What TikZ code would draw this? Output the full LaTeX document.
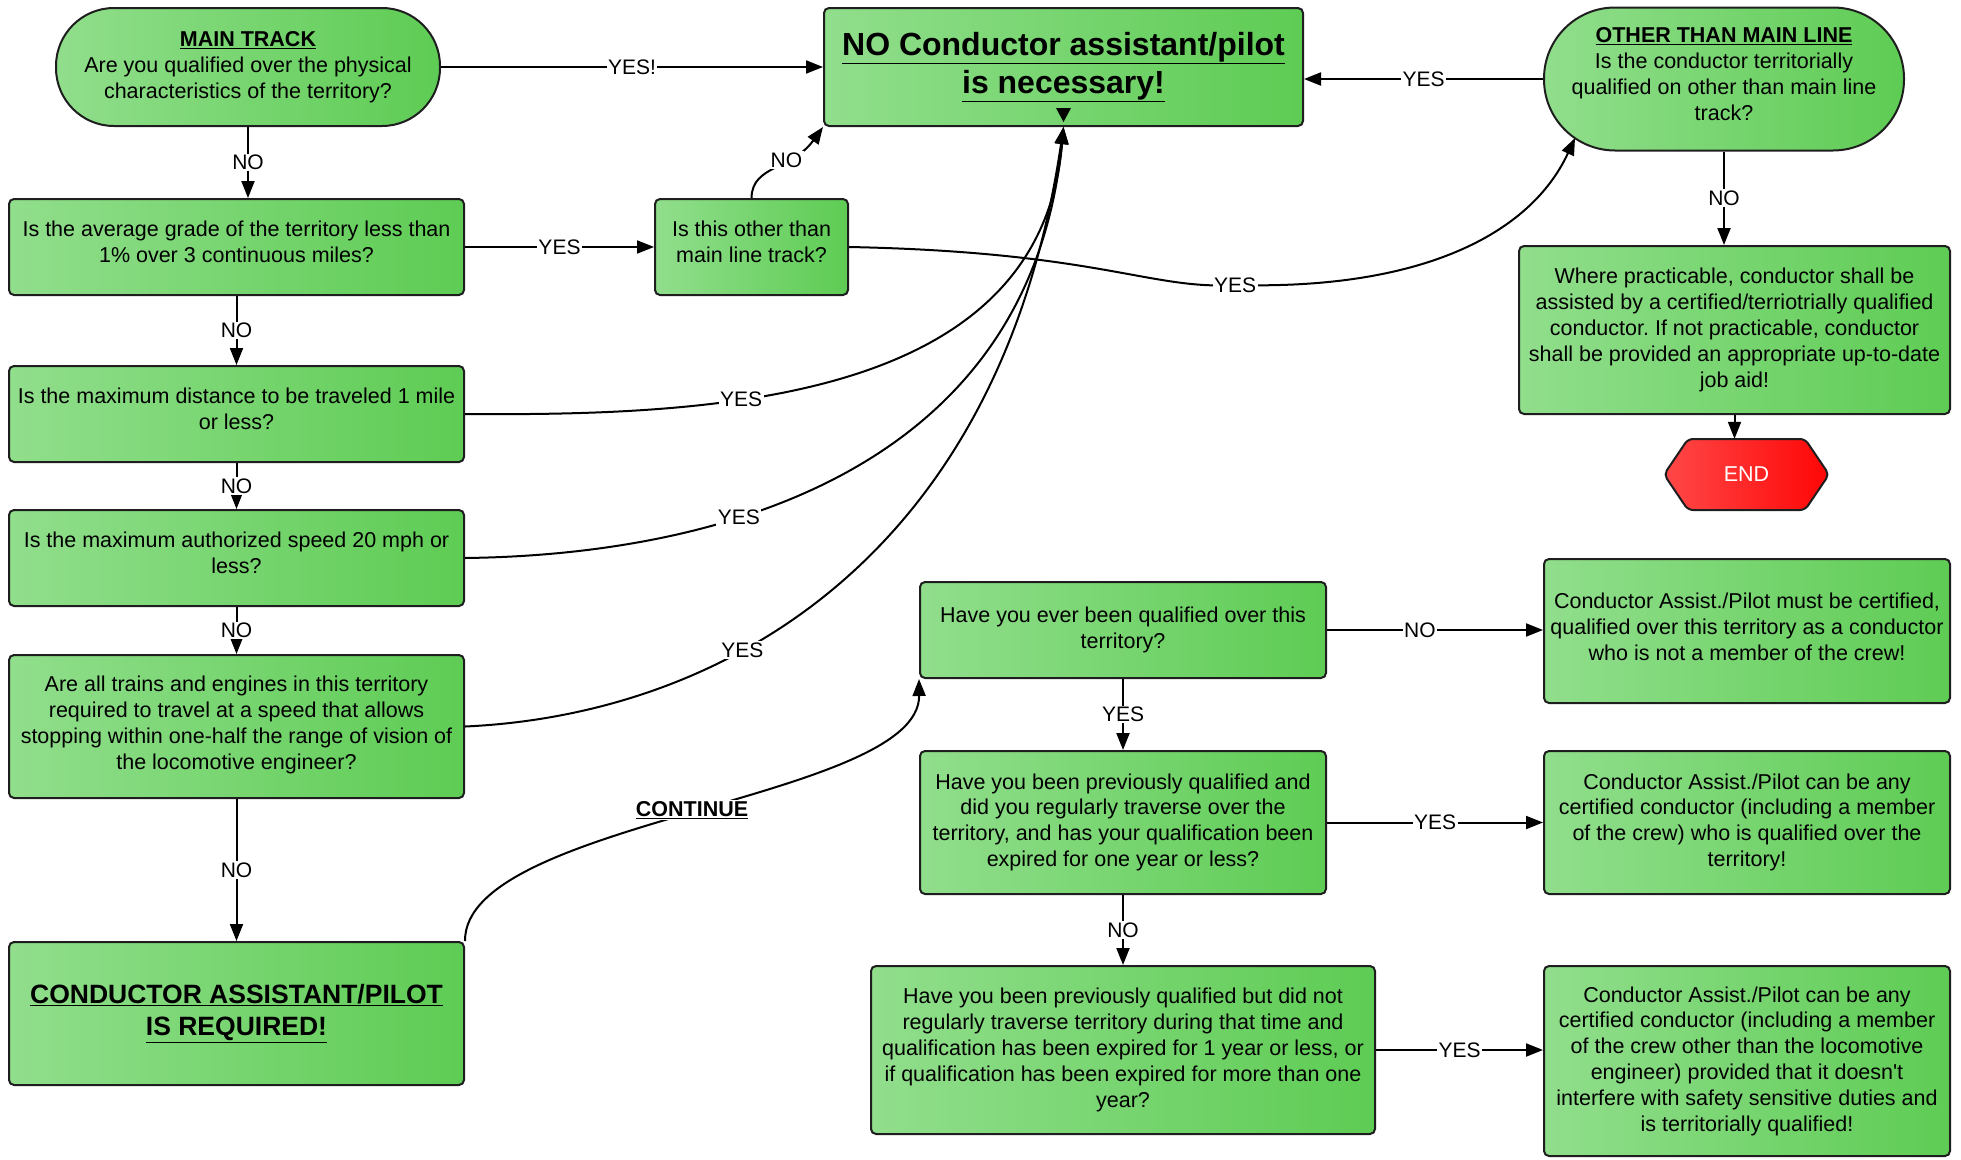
\documentclass[tikz,border=0pt]{standalone}
\usepackage{fontspec}
\setmainfont{Liberation Sans}
\usetikzlibrary{arrows.meta,calc}
\definecolor{gL}{RGB}{145,222,140}
\definecolor{gR}{RGB}{94,204,84}
\definecolor{rL}{RGB}{255,72,72}
\definecolor{rR}{RGB}{255,6,6}
\definecolor{bd}{RGB}{30,30,30}
\newcommand\myfs{\fontsize{21.5}{25.8}\selectfont}
% raise the text of a box by half of (25.8pt + #1)
\newcommand\lift[1]{\\[#1]\mbox{}}
\tikzset{
  box/.style={draw=bd, line width=2pt, rounded corners=5pt, left color=gL, right color=gR,
    align=center, font=\myfs, inner sep=0pt},
  lbl/.style={fill=white, inner sep=1.5pt, font=\fontsize{21}{25}\selectfont},
  arr/.style={line width=2pt, -{Triangle[length=17pt,width=13pt]}},
}
\begin{document}
\frenchspacing
\begin{tikzpicture}[x=1pt,y=-1pt]
\useasboundingbox (0,0) rectangle (1961,1159);

% nodes
\node[box, minimum width=384pt, minimum height=118pt, rounded corners=58pt] (main) at (248,67)
  {\underline{\textbf{MAIN TRACK}}\\Are you qualified over the physical\\characteristics of the territory?};
\node[box, minimum width=479pt, minimum height=118pt, font=\fontsize{32}{38.5}\selectfont\bfseries] (noc) at (1063.5,67)
  {\underline{NO Conductor assistant/pilot}\\\underline{is necessary!}};
\node[box, minimum width=360pt, minimum height=143pt, rounded corners=71pt] (other) at (1724,79)
  {\underline{\textbf{OTHER THAN MAIN LINE}}\\Is the conductor territorially\\qualified on other than main line\\track?\lift{-15.8pt}};

\node[box, minimum width=455pt, minimum height=96pt] (b1) at (236.5,247)
  {Is the average grade of the territory less than\\1\% over 3 continuous miles?\lift{-15.8pt}};
\node[box, minimum width=193pt, minimum height=96pt] (oth2) at (751.5,247)
  {Is this other than\\main line track?\lift{-15.8pt}};
\node[box, minimum width=455pt, minimum height=96pt] (b2) at (236.5,414)
  {Is the maximum distance to be traveled 1 mile\\or less?\lift{-15.8pt}};
\node[box, minimum width=455pt, minimum height=96pt] (b3) at (236.5,558)
  {Is the maximum authorized speed 20 mph or\\less?\lift{-15.8pt}};
\node[box, minimum width=455pt, minimum height=143pt] (b4) at (236.5,726.5)
  {Are all trains and engines in this territory\\required to travel at a speed that allows\\stopping within one-half the range of vision of\\the locomotive engineer?\lift{-17.8pt}};
\node[box, minimum width=455pt, minimum height=143pt, font=\fontsize{26.5}{32}\selectfont\bfseries] (b5) at (236.5,1013.5)
  {\underline{CONDUCTOR ASSISTANT/PILOT}\\\underline{IS REQUIRED!}};

\node[box, minimum width=431pt, minimum height=168pt] (where) at (1734.5,330)
  {Where practicable, conductor shall be\\assisted by a certified/terriotrially qualified\\conductor. If not practicable, conductor\\shall be provided an appropriate up-to-date\\job aid!};

% END hexagon
\draw[draw=bd, line width=2pt, left color=rL, right color=rR, rounded corners=5pt]
  (1664,474.5) -- (1688,439) -- (1805,439) -- (1829,474.5) -- (1805,510) -- (1688,510) -- cycle;
\node[minimum width=165pt, minimum height=71pt, inner sep=0pt, text=white, font=\myfs] (end) at (1746.5,474.5) {END};

\node[box, minimum width=406pt, minimum height=96pt] (ever) at (1123,630)
  {Have you ever been qualified over this\\territory?};
\node[box, minimum width=406pt, minimum height=143pt] (prev) at (1123,822.5)
  {Have you been previously qualified and\\did you regularly traverse over the\\territory, and has your qualification been\\expired for one year or less?\lift{-20.8pt}};
\node[box, minimum width=504pt, minimum height=168pt] (prevnot) at (1123,1050)
  {Have you been previously qualified but did not\\regularly traverse territory during that time and\\qualification has been expired for 1 year or less, or\\if qualification has been expired for more than one\\year?};

\node[box, minimum width=406pt, minimum height=144pt] (r1) at (1747,631)
  {Conductor Assist./Pilot must be certified,\\qualified over this territory as a conductor\\who is not a member of the crew!\lift{-17.8pt}};
\node[box, minimum width=406pt, minimum height=143pt] (r2) at (1747,822.5)
  {Conductor Assist./Pilot can be any\\certified conductor (including a member\\of the crew) who is qualified over the\\territory!\lift{-20.8pt}};
\node[box, minimum width=406pt, minimum height=190pt] (r3) at (1747,1061)
  {Conductor Assist./Pilot can be any\\certified conductor (including a member\\of the crew other than the locomotive\\engineer) provided that it doesn\textquotesingle t\\interfere with safety sensitive duties and\\is territorially qualified!};

\fill (1056,108) -- (1071,108) -- (1063.5,122) -- cycle;

% connectors
\draw[arr] (main) -- node[lbl]{YES!} (noc);
\draw[arr] (main.south) -- node[lbl]{NO} (main.south |- b1.north);
\draw[arr] (b1) -- node[lbl]{YES} (oth2);
\draw[arr] (b1) -- node[lbl]{NO} (b2);
\draw[arr] (b2) -- node[lbl]{NO} (b3);
\draw[arr] (b3) -- node[lbl]{NO} (b4);
\draw[arr] (b4) -- node[lbl]{NO} (b5);

\draw[arr] (oth2.north) .. controls (752,165) and (792,170) .. (noc.south west) node[lbl,pos=0.62]{NO};

\coordinate (othIn) at (1575,138);
\draw[arr] (oth2.east) .. controls (1100,252) and (1150,290) .. (1235,285) node[lbl]{YES}
  .. controls (1420,290) and (1530,235) .. (othIn);

\draw[arr] (b2.east) .. controls (720,416) and (1040,400) .. (noc.south) node[lbl,pos=0.35]{YES};
\draw[arr] (b3.east) .. controls (720,555) and (1030,470) .. (noc.south) node[lbl,pos=0.35]{YES};
\draw[arr] (b4.east) .. controls (720,715) and (1000,560) .. (noc.south) node[lbl,pos=0.365]{YES};

\draw[arr] (other.west) -- node[lbl]{YES} (other.west -| noc.east);
\draw[arr] (other.south) -- node[lbl]{NO} (other.south |- where.north);
\draw[arr] (where.south) -- (where.south |- end.north);

\draw[arr] (b5.north east) .. controls (464,820) and (920,800) .. (ever.south west)
  node[lbl,pos=0.5,font=\myfs\bfseries]{\underline{CONTINUE}};

\draw[arr] (ever.east) -- node[lbl,pos=0.43]{NO} (ever.east -| r1.west);
\draw[arr] (ever) -- node[lbl]{YES} (prev);
\draw[arr] (prev) -- node[lbl]{YES} (r2);
\draw[arr] (prev) -- node[lbl]{NO} (prevnot);
\draw[arr] (prevnot.east) -- node[lbl]{YES} (prevnot.east -| r3.west);
\end{tikzpicture}
\end{document}
